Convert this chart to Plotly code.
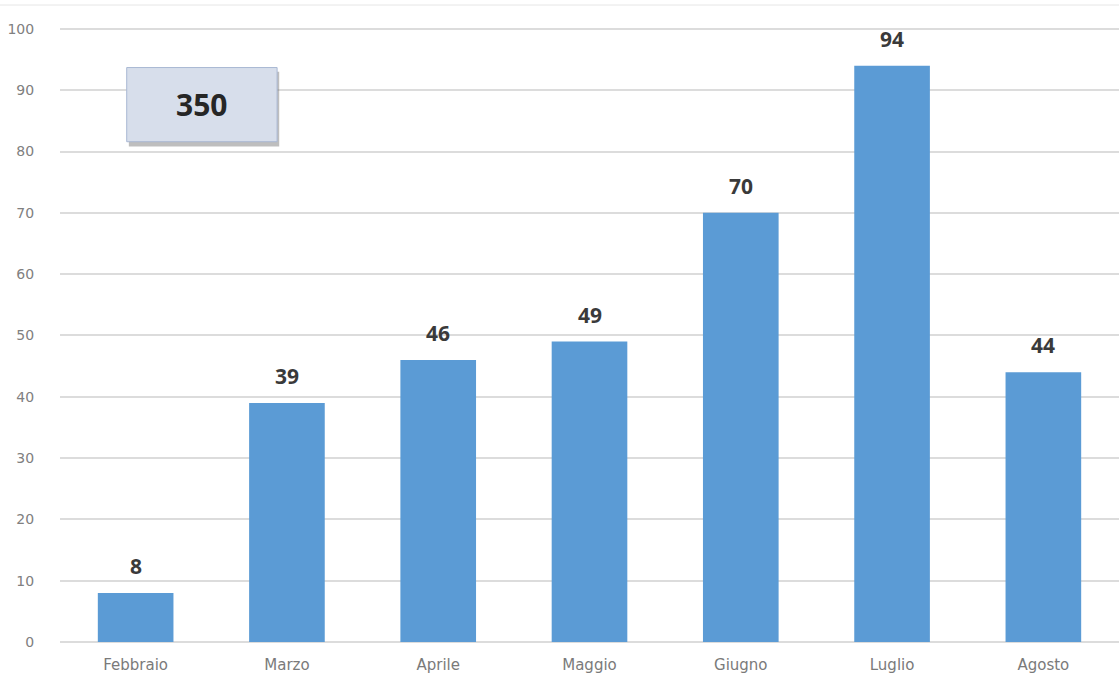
import plotly.graph_objects as go

months = ["Febbraio", "Marzo", "Aprile", "Maggio", "Giugno", "Luglio", "Agosto"]
values = [8, 39, 46, 49, 70, 94, 44]
total_label = "350"
y_ticks = [0, 10, 20, 30, 40, 50, 60, 70, 80, 90, 100]

FONT = "'Open Sans', Lato, sans-serif"
TICKFONT = "'DejaVu Sans', sans-serif"

fig = go.Figure()
fig.add_trace(go.Bar(
    x=months, y=values,
    marker=dict(color="#5b9bd5", line=dict(width=0)),
    hoverinfo="x+y",
))

for m, v in zip(months, values):
    fig.add_annotation(
        x=m, y=v, text=f"<b>{v}</b>", showarrow=False,
        yanchor="bottom", yshift=11,
        font=dict(family=FONT, size=21, color="#3a3a3a"),
    )

# total box with shadow
fig.add_shape(type="rect", xref="paper", yref="y",
              x0=0.065, x1=0.207, y0=80.8, y1=93.0,
              fillcolor="rgba(110,110,110,0.45)", line=dict(width=0), layer="above")
fig.add_shape(type="rect", xref="paper", yref="y",
              x0=0.063, x1=0.205, y0=81.6, y1=93.7,
              fillcolor="#d7deeb", line=dict(color="#a9b8d3", width=1), layer="above")
fig.add_annotation(xref="paper", yref="y", x=0.134, y=87.7, text="<b>" + total_label + "</b>",
                   xanchor="center", yanchor="middle",
                   showarrow=False, font=dict(family=FONT, size=30, color="#262626"))

# faint top border line
fig.add_shape(type="line", xref="paper", yref="paper", x0=-0.06, x1=1, y0=1, y1=1,
              line=dict(color="#e6e6e6", width=1))

fig.update_layout(
    width=1119, height=686,
    margin=dict(l=60, r=0, t=5, b=44),
    paper_bgcolor="white", plot_bgcolor="white",
    bargap=0.5,
    showlegend=False,
    font=dict(family=FONT),
    xaxis=dict(
        showgrid=False, zeroline=False, showline=False,
        ticks="outside", ticklen=9, tickcolor="rgba(0,0,0,0)",
        tickfont=dict(family=TICKFONT, size=15, color="#7a7a7a"),
    ),
    yaxis=dict(
        range=[0, 103.9], tickvals=y_ticks,
        showgrid=True, gridcolor="#dcdcdc", gridwidth=1.5,
        zeroline=True, zerolinecolor="#dcdcdc", zerolinewidth=1.5,
        showline=False,
        ticks="outside", ticklen=22, tickcolor="rgba(0,0,0,0)",
        tickfont=dict(family=TICKFONT, size=14, color="#808080"),
    ),
)

fig.write_html("out.html")
